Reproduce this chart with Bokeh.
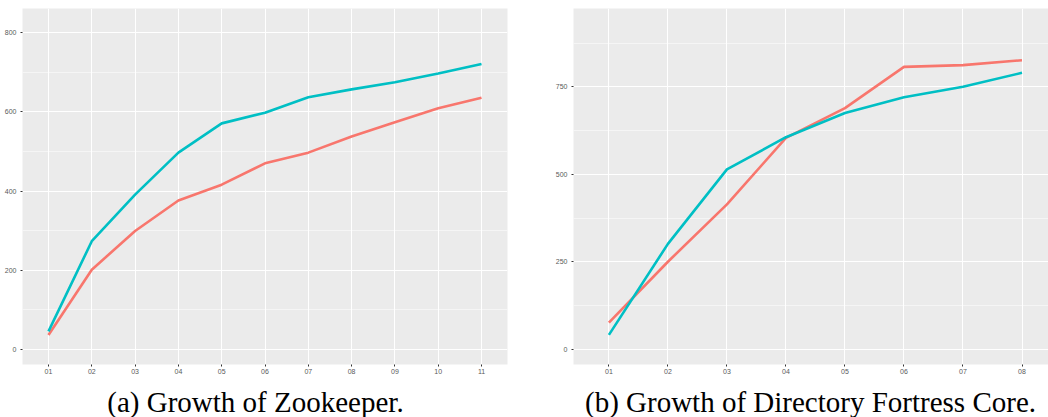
from bokeh.plotting import figure
from bokeh.layouts import row, column
from bokeh.models import Range1d, FixedTicker
from bokeh.core.properties import value
from bokeh.embed import file_html
from bokeh.resources import INLINE

# ---- data ----
zk_versions = ["01", "02", "03", "04", "05", "06", "07", "08", "09", "10", "11"]
zk_cyan = [45, 273, 391, 497, 571, 598, 637, 657, 675, 697, 721]
zk_red = [36, 201, 299, 376, 416, 470, 497, 538, 574, 609, 636]

df_versions = ["01", "02", "03", "04", "05", "06", "07", "08"]
df_cyan = [41, 301, 514, 606, 675, 720, 750, 790]
df_red = [76, 250, 414, 604, 689, 807, 812, 826]

zk_yticks = [0, 200, 400, 600, 800]
zk_yminor = [100, 300, 500, 700]
df_yticks = [0, 250, 500, 750]
df_yminor = [125, 375, 625, 875]

captions = ["(a) Growth of Zookeeper.", "(b) Growth of Directory Fortress Core."]

CYAN = "#00BFC4"
RED = "#F8766D"
BG = "#EBEBEB"
TOP_H = 380


def make_panel(versions, cyan, red, yticks, yminor, yrange, xend,
               left, fw, right):
    n = len(versions)
    xs = list(range(1, n + 1))
    p = figure(output_backend="svg", toolbar_location=None,
               frame_width=fw, frame_height=356,
               min_border_left=left, min_border_right=right,
               min_border_top=8, min_border_bottom=TOP_H - 364,
               x_range=Range1d(0.4, xend), y_range=Range1d(*yrange))
    p.outline_line_color = None
    p.background_fill_color = BG
    p.border_fill_color = "white"

    p.line(xs, red, line_color=RED, line_width=2.6)
    p.line(xs, cyan, line_color=CYAN, line_width=2.6)

    p.xaxis.ticker = FixedTicker(ticks=xs)
    p.xaxis.major_label_overrides = {i: v for i, v in zip(xs, versions)}
    p.yaxis.ticker = FixedTicker(ticks=yticks, minor_ticks=yminor)
    for ax in (p.xaxis, p.yaxis):
        ax.axis_line_color = None
        ax.major_tick_in = 0
        ax.major_tick_out = 2
        ax.major_tick_line_color = "#333333"
        ax.minor_tick_line_color = None
        ax.major_label_text_font = "Liberation Sans"
        ax.major_label_text_font_size = "7px"
        ax.major_label_text_color = "#5A5A5A"
        ax.major_label_standoff = 2
    p.xgrid.grid_line_color = "white"
    p.xgrid.grid_line_width = 1.1
    p.ygrid.grid_line_color = "white"
    p.ygrid.grid_line_width = 1.1
    p.ygrid.minor_grid_line_color = "white"
    p.ygrid.minor_grid_line_width = 0.5
    return p


def make_caption(width, text, cx):
    h = 417 - TOP_H
    c = figure(output_backend="svg", toolbar_location=None,
               width=width, height=h, min_border=0,
               x_range=Range1d(0, width), y_range=Range1d(0, h),
               x_axis_type=None, y_axis_type=None)
    c.outline_line_color = None
    c.grid.visible = False
    c.background_fill_color = "white"
    c.text(x=[cx], y=[417 - 401], text=[text],
           text_align="center", text_baseline="middle",
           text_font=value("Liberation Serif"), text_font_size="29px",
           text_color="black")
    return c


pa = make_panel(zk_versions, zk_cyan, zk_red, zk_yticks, zk_yminor,
                (-38.7, 861.5), 11.6, 22, 485, 13)
pb = make_panel(df_versions, df_cyan, df_red, df_yticks, df_yminor,
                (-43.7, 973.8), 8.449, 53, 475, 0)
ca = make_caption(520, captions[0], 255)
cb = make_caption(528, captions[1], 810 - 520)

p = column(row(pa, pb, spacing=0), row(ca, cb, spacing=0), spacing=0)
open("out.html", "w").write(file_html(p, INLINE))
